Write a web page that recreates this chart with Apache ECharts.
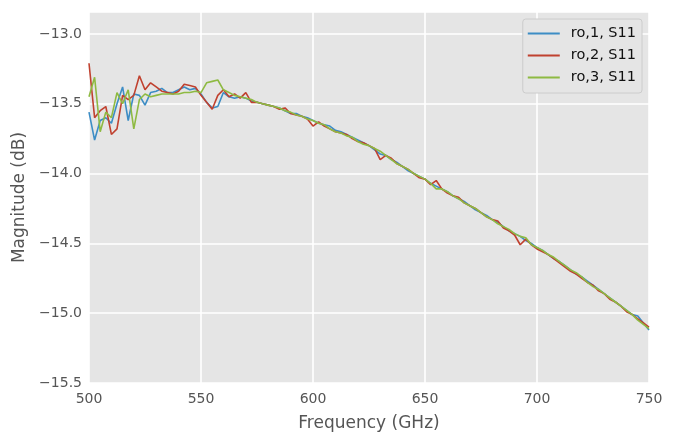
<!DOCTYPE html>
<html>
<head>
<meta charset="utf-8">
<script src="https://cdn.jsdelivr.net/npm/echarts@6/dist/echarts.min.js"></script>
<style>
  html, body { margin: 0; padding: 0; background: #fff; }
  #chart { width: 676px; height: 443px; }
</style>
</head>
<body>
<div id="chart"></div>
<script>
// frequency points (GHz)
const freq = [
  500, 502.5, 505, 507.5, 510, 512.5, 515, 517.5, 520, 522.5,
  525, 527.5, 530, 532.5, 535, 537.5, 540, 542.5, 545, 547.5,
  550, 552.5, 555, 557.5, 560, 562.5, 565, 567.5, 570, 572.5,
  575, 577.5, 580, 582.5, 585, 587.5, 590, 592.5, 595, 597.5,
  600, 602.5, 605, 607.5, 610, 612.5, 615, 617.5, 620, 622.5,
  625, 627.5, 630, 632.5, 635, 637.5, 640, 642.5, 645, 647.5,
  650, 652.5, 655, 657.5, 660, 662.5, 665, 667.5, 670, 672.5,
  675, 677.5, 680, 682.5, 685, 687.5, 690, 692.5, 695, 697.5,
  700, 702.5, 705, 707.5, 710, 712.5, 715, 717.5, 720, 722.5,
  725, 727.5, 730, 732.5, 735, 737.5, 740, 742.5, 745, 747.5,
  750
];

// magnitude (dB)
const ro1 = [
  -13.56, -13.76, -13.62, -13.60, -13.64, -13.50, -13.38, -13.62, -13.43, -13.44,
  -13.51, -13.42, -13.41, -13.39, -13.42, -13.42, -13.40, -13.38, -13.40, -13.39,
  -13.43, -13.49, -13.53, -13.52, -13.42, -13.45, -13.46, -13.45, -13.46, -13.48,
  -13.49, -13.50, -13.51, -13.52, -13.53, -13.55, -13.57, -13.57, -13.59, -13.60,
  -13.62, -13.64, -13.65, -13.66, -13.69, -13.70, -13.72, -13.74, -13.76, -13.78,
  -13.80, -13.83, -13.86, -13.87, -13.90, -13.92, -13.95, -13.98, -14.00, -14.02,
  -14.04, -14.07, -14.09, -14.11, -14.13, -14.16, -14.18, -14.20, -14.23, -14.26,
  -14.28, -14.30, -14.33, -14.35, -14.38, -14.41, -14.43, -14.45, -14.48, -14.50,
  -14.53, -14.55, -14.58, -14.61, -14.63, -14.66, -14.69, -14.72, -14.74, -14.77,
  -14.80, -14.83, -14.86, -14.89, -14.92, -14.95, -14.98, -15.01, -15.02, -15.07,
  -15.12
];
const ro2 = [
  -13.21, -13.60, -13.55, -13.52, -13.72, -13.68, -13.44, -13.47, -13.44, -13.30,
  -13.40, -13.35, -13.38, -13.41, -13.42, -13.43, -13.41, -13.36, -13.37, -13.38,
  -13.44, -13.49, -13.54, -13.44, -13.40, -13.45, -13.43, -13.46, -13.42, -13.49,
  -13.49, -13.50, -13.51, -13.52, -13.54, -13.53, -13.57, -13.58, -13.59, -13.61,
  -13.66, -13.63, -13.66, -13.68, -13.70, -13.71, -13.72, -13.75, -13.77, -13.78,
  -13.80, -13.82, -13.90, -13.87, -13.89, -13.93, -13.95, -13.97, -14.00, -14.03,
  -14.04, -14.08, -14.05, -14.11, -14.14, -14.16, -14.17, -14.21, -14.23, -14.25,
  -14.28, -14.31, -14.33, -14.34, -14.39, -14.41, -14.44, -14.51, -14.47, -14.51,
  -14.54, -14.56, -14.58, -14.61, -14.64, -14.67, -14.70, -14.72, -14.75, -14.78,
  -14.80, -14.84, -14.86, -14.90, -14.92, -14.95, -14.99, -15.01, -15.04, -15.07,
  -15.10
];
const ro3 = [
  -13.45, -13.31, -13.70, -13.56, -13.60, -13.42, -13.50, -13.40, -13.68, -13.47,
  -13.43, -13.45, -13.44, -13.43, -13.43, -13.43, -13.43, -13.42, -13.42, -13.41,
  -13.42, -13.35, -13.34, -13.33, -13.40, -13.42, -13.44, -13.45, -13.46, -13.47,
  -13.49, -13.50, -13.51, -13.52, -13.53, -13.55, -13.56, -13.58, -13.59, -13.61,
  -13.62, -13.64, -13.65, -13.68, -13.70, -13.71, -13.73, -13.74, -13.77, -13.79,
  -13.80, -13.82, -13.84, -13.87, -13.90, -13.93, -13.95, -13.97, -14.00, -14.02,
  -14.04, -14.07, -14.11, -14.11, -14.13, -14.16, -14.18, -14.21, -14.23, -14.25,
  -14.28, -14.31, -14.33, -14.36, -14.38, -14.40, -14.43, -14.45, -14.46, -14.51,
  -14.53, -14.55, -14.58, -14.60, -14.63, -14.66, -14.69, -14.71, -14.74, -14.78,
  -14.81, -14.83, -14.86, -14.89, -14.92, -14.95, -14.98, -15.01, -15.05, -15.08,
  -15.11
];

const seriesNames = ['ro,1, S11', 'ro,2, S11', 'ro,3, S11'];
const colors = ['#3D8DC5', '#C0412F', '#8EBA42'];

const font = 'DejaVu Sans';
const fmtMinus = (v) => (v < 0 ? '\u2212' : '') + Math.abs(v).toFixed(1);

const chart = echarts.init(document.getElementById('chart'));
chart.setOption({
  animation: false,
  color: colors,
  textStyle: { fontFamily: font },
  grid: {
    left: 89, right: 27, top: 12, bottom: 60,
    show: true, backgroundColor: '#E5E5E5', borderWidth: 0,
  },
  legend: {
    orient: 'vertical',
    right: 34, top: 19,
    icon: 'rect',
    itemWidth: 32, itemHeight: 2, itemGap: 5,
    padding: [6, 6, 7, 5],
    backgroundColor: '#E5E5E5',
    borderColor: '#CCCCCC', borderWidth: 1, borderRadius: 3,
    textStyle: {
      fontFamily: font, fontSize: 14.5, color: '#111', lineHeight: 17,
      padding: [0, 0, 0, 6],
    },
    data: seriesNames,
  },
  xAxis: {
    type: 'value',
    min: 500, max: 750, interval: 50,
    name: 'Frequency (GHz)',
    nameLocation: 'middle', nameGap: 32,
    nameTextStyle: { fontFamily: font, fontSize: 17, color: '#555' },
    axisLine: { show: false },
    axisTick: { show: false },
    axisLabel: { fontFamily: font, fontSize: 14, color: '#555', margin: 9 },
    splitLine: { lineStyle: { color: '#FFFFFF', width: 1.6 } },
  },
  yAxis: {
    type: 'value',
    min: -15.5, max: -12.843, interval: 0.5,
    name: 'Magnitude (dB)',
    nameLocation: 'middle', nameGap: 57,
    nameTextStyle: { fontFamily: font, fontSize: 17, color: '#555' },
    axisLine: { show: false },
    axisTick: { show: false },
    axisLabel: {
      fontFamily: font, fontSize: 14, color: '#555', margin: 7,
      showMaxLabel: false,
      formatter: (v) => (Math.abs(v * 2 - Math.round(v * 2)) < 1e-6 ? fmtMinus(v) : ''),
    },
    splitLine: { lineStyle: { color: '#FFFFFF', width: 1.6 } },
  },
  series: [ro1, ro2, ro3].map((vals, i) => ({
    name: seriesNames[i],
    type: 'line',
    showSymbol: false,
    symbol: 'none',
    clip: true,
    lineStyle: { width: 1.6 },
    data: freq.map((f, j) => [f, vals[j]]),
  })),
});
</script>
</body>
</html>
